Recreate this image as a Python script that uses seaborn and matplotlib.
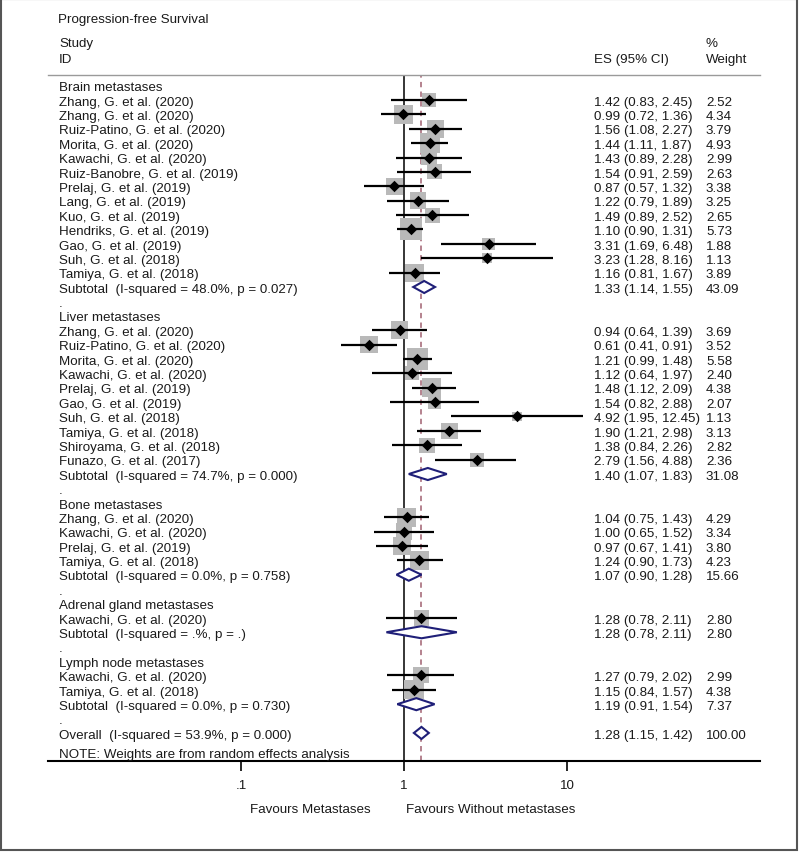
import numpy as np
import pandas as pd
import matplotlib
matplotlib.use("Agg")
import matplotlib.pyplot as plt
import matplotlib.transforms as mtransforms
from matplotlib.patches import Rectangle
import seaborn as sns

# rows of the forest plot, top to bottom
labels = [
    "Brain metastases",
    "Zhang, G. et al. (2020)", "Zhang, G. et al. (2020)", "Ruiz-Patino, G. et al. (2020)",
    "Morita, G. et al. (2020)", "Kawachi, G. et al. (2020)", "Ruiz-Banobre, G. et al. (2019)",
    "Prelaj, G. et al. (2019)", "Lang, G. et al. (2019)", "Kuo, G. et al. (2019)",
    "Hendriks, G. et al. (2019)", "Gao, G. et al. (2019)", "Suh, G. et al. (2018)",
    "Tamiya, G. et al. (2018)",
    "Subtotal  (I-squared = 48.0%, p = 0.027)",
    ".",
    "Liver metastases",
    "Zhang, G. et al. (2020)", "Ruiz-Patino, G. et al. (2020)", "Morita, G. et al. (2020)",
    "Kawachi, G. et al. (2020)", "Prelaj, G. et al. (2019)", "Gao, G. et al. (2019)",
    "Suh, G. et al. (2018)", "Tamiya, G. et al. (2018)", "Shiroyama, G. et al. (2018)",
    "Funazo, G. et al. (2017)",
    "Subtotal  (I-squared = 74.7%, p = 0.000)",
    ".",
    "Bone metastases",
    "Zhang, G. et al. (2020)", "Kawachi, G. et al. (2020)", "Prelaj, G. et al. (2019)",
    "Tamiya, G. et al. (2018)",
    "Subtotal  (I-squared = 0.0%, p = 0.758)",
    ".",
    "Adrenal gland metastases",
    "Kawachi, G. et al. (2020)",
    "Subtotal  (I-squared = .%, p = .)",
    ".",
    "Lymph node metastases",
    "Kawachi, G. et al. (2020)", "Tamiya, G. et al. (2018)",
    "Subtotal  (I-squared = 0.0%, p = 0.730)",
    ".",
    "Overall  (I-squared = 53.9%, p = 0.000)",
]
kinds = (["head"] + ["study"] * 13 + ["sub", "dot", "head"] + ["study"] * 10
         + ["sub", "dot", "head"] + ["study"] * 4 + ["sub", "dot", "head", "study", "sub",
         "dot", "head", "study", "study", "sub", "dot", "total"])
es = [None,
      1.42, 0.99, 1.56, 1.44, 1.43, 1.54, 0.87, 1.22, 1.49, 1.10, 3.31, 3.23, 1.16,
      1.33, None, None,
      0.94, 0.61, 1.21, 1.12, 1.48, 1.54, 4.92, 1.90, 1.38, 2.79,
      1.40, None, None,
      1.04, 1.00, 0.97, 1.24,
      1.07, None, None,
      1.28, 1.28, None, None,
      1.27, 1.15, 1.19, None,
      1.28]
lo = [None,
      0.83, 0.72, 1.08, 1.11, 0.89, 0.91, 0.57, 0.79, 0.89, 0.90, 1.69, 1.28, 0.81,
      1.14, None, None,
      0.64, 0.41, 0.99, 0.64, 1.12, 0.82, 1.95, 1.21, 0.84, 1.56,
      1.07, None, None,
      0.75, 0.65, 0.67, 0.90,
      0.90, None, None,
      0.78, 0.78, None, None,
      0.79, 0.84, 0.91, None,
      1.15]
hi = [None,
      2.45, 1.36, 2.27, 1.87, 2.28, 2.59, 1.32, 1.89, 2.52, 1.31, 6.48, 8.16, 1.67,
      1.55, None, None,
      1.39, 0.91, 1.48, 1.97, 2.09, 2.88, 12.45, 2.98, 2.26, 4.88,
      1.83, None, None,
      1.43, 1.52, 1.41, 1.73,
      1.28, None, None,
      2.11, 2.11, None, None,
      2.02, 1.57, 1.54, None,
      1.42]
weight = [None,
          2.52, 4.34, 3.79, 4.93, 2.99, 2.63, 3.38, 3.25, 2.65, 5.73, 1.88, 1.13, 3.89,
          43.09, None, None,
          3.69, 3.52, 5.58, 2.40, 4.38, 2.07, 1.13, 3.13, 2.82, 2.36,
          31.08, None, None,
          4.29, 3.34, 3.80, 4.23,
          15.66, None, None,
          2.80, 2.80, None, None,
          2.99, 4.38, 7.37, None,
          100.00]
overall_es = 1.28
tick_vals = [0.1, 1, 10]
tick_labels = [".1", "1", "10"]

df = pd.DataFrame({"label": labels, "kind": kinds, "es": es, "lo": lo, "hi": hi, "weight": weight})
df["row"] = np.arange(len(df))

W, H = 800, 853


def fx(p):
    return p / W


def fy(p):
    return 1 - p / H


sns.set_style("white")
plt.rcParams["font.family"] = ["Liberation Sans", "DejaVu Sans"]
FS = 9.6
TXT = "#1a1a1a"
NAVY = "#1f1f78"

fig = plt.figure(figsize=(W / 100, H / 100), dpi=100)
ax = fig.add_axes([fx(48), fy(762), (760 - 48) / W, (762 - 76) / H])
ax.set_xscale("log")

studies = df[df["kind"] == "study"]
wmin, wmax = studies["weight"].min(), studies["weight"].max()
k = 43.9
sns.scatterplot(data=studies, x="es", y="row", size="weight", sizes=(k * wmin, k * wmax),
                size_norm=(wmin, wmax), marker="s", color="#b9b9b9", linewidth=0,
                legend=False, ax=ax, zorder=2)
ax.hlines(studies["row"], studies["lo"], studies["hi"], color="black", lw=1.6, zorder=3)
sns.scatterplot(data=studies, x="es", y="row", marker="D", s=34, color="black",
                linewidth=0, legend=False, ax=ax, zorder=4)

ax.axvline(1, color="black", lw=1.1, zorder=1)
ax.axvline(overall_es, color="#a06070", lw=1.1, ls=(0, (3.5, 2.8)), zorder=1)

h = 0.42
for _, r in df[df["kind"].isin(["sub", "total"])].iterrows():
    xs = [r["lo"], r["es"], r["hi"], r["es"], r["lo"]]
    ys = [r["row"], r["row"] - h, r["row"], r["row"] + h, r["row"]]
    ax.fill(xs, ys, facecolor="white", edgecolor=NAVY, lw=1.5, zorder=5)

ax.set_xlim(10 ** -2.184, 10 ** 2.184)
ax.set_ylim(46.95, -0.737)
ax.set_xticks(tick_vals)
ax.set_xticklabels(tick_labels, fontsize=FS, color=TXT)
ax.xaxis.set_minor_locator(matplotlib.ticker.NullLocator())
ax.set_yticks([])
ax.set_xlabel("")
ax.set_ylabel("")
ax.tick_params(axis="x", direction="out", length=7, width=1.4, pad=6, bottom=True)
for side in ["left", "right"]:
    ax.spines[side].set_visible(False)
ax.spines["top"].set_color("#9a9a9a")
ax.spines["top"].set_linewidth(1.0)
ax.spines["bottom"].set_color("black")
ax.spines["bottom"].set_linewidth(1.5)

# text columns
tr = mtransforms.blended_transform_factory(fig.transFigure, ax.transData)
dy = 0.12
for _, r in df.iterrows():
    ax.text(fx(59), r["row"] + dy, r["label"], transform=tr, fontsize=FS, color=TXT,
            va="center", ha="left")
    if r["kind"] in ("study", "sub", "total"):
        ax.text(fx(594), r["row"] + dy, f"{r['es']:.2f} ({r['lo']:.2f}, {r['hi']:.2f})",
                transform=tr, fontsize=FS, color=TXT, va="center", ha="left")
        ax.text(fx(706), r["row"] + dy, f"{r['weight']:.2f}", transform=tr, fontsize=FS,
                color=TXT, va="center", ha="left")
ax.text(fx(59), 46.45, "NOTE: Weights are from random effects analysis", transform=tr,
        fontsize=FS, color=TXT, va="center", ha="left")

fig.text(fx(58), fy(20), "Progression-free Survival", fontsize=FS, color=TXT, va="center")
fig.text(fx(59), fy(44), "Study", fontsize=FS, color=TXT, va="center")
fig.text(fx(59), fy(60), "ID", fontsize=FS, color=TXT, va="center")
fig.text(fx(594), fy(60), "ES (95% CI)", fontsize=FS, color=TXT, va="center")
fig.text(fx(706), fy(44), "%", fontsize=FS, color=TXT, va="center")
fig.text(fx(706), fy(60), "Weight", fontsize=FS, color=TXT, va="center")
fig.text(fx(371), fy(810), "Favours Metastases", fontsize=FS, color=TXT, va="center", ha="right")
fig.text(fx(406), fy(810), "Favours Without metastases", fontsize=FS, color=TXT, va="center", ha="left")

fig.add_artist(Rectangle((fx(1), fy(851)), fx(796), 851 / H - 0.0005, transform=fig.transFigure,
                         fill=False, ec="#555555", lw=1.5))

fig.savefig("out.png", dpi=100)
